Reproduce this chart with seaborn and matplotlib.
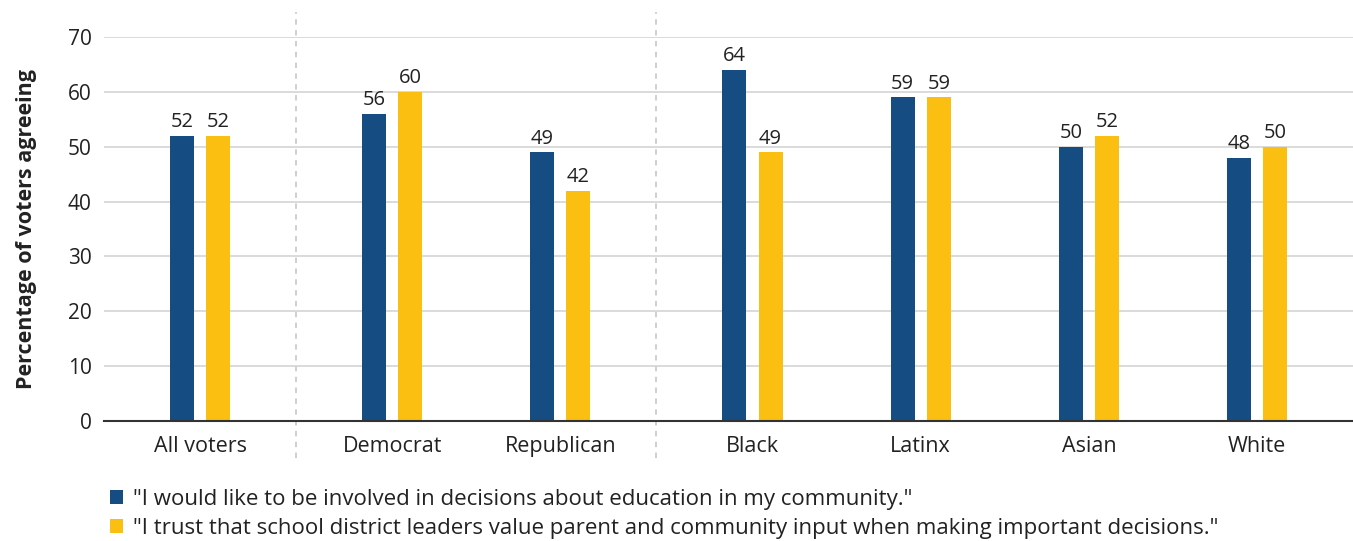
import matplotlib
matplotlib.use("Agg")
import matplotlib.pyplot as plt
import seaborn as sns
import pandas as pd
import numpy as np
from matplotlib.patches import Patch

categories = ["All voters", "Democrat", "Republican", "Black", "Latinx", "Asian", "White"]
groups = [0, 1, 1, 2, 2, 2, 2]
involved = [52, 56, 49, 64, 59, 50, 48]
trust = [52, 60, 42, 49, 59, 52, 50]
series_names = [
    "\"I would like to be involved in decisions about education in my community.\"",
    "\"I trust that school district leaders value parent and community input when making important decisions.\"",
]
colors = ["#154C82", "#FBBF12"]
yticks = [0, 10, 20, 30, 40, 50, 60, 70]

group_gap = 1 / 7
positions = [i + g * group_gap for i, g in enumerate(groups)]

df = pd.DataFrame({
    "pos": positions * 2,
    "value": involved + trust,
    "series": [series_names[0]] * len(categories) + [series_names[1]] * len(categories),
})

sns.set_theme(style="white")
plt.rcParams["font.family"] = ["Open Sans", "DejaVu Sans"]
text_color = "#222222"

fig = plt.figure(figsize=(13.53, 5.41), dpi=100)
ax = fig.add_axes([104 / 1353, 1 - 421 / 541, 1 - 104 / 1353, 384 / 541])

sns.barplot(data=df, x="pos", y="value", hue="series", native_scale=True,
            palette=colors, width=0.43, gap=1 / 3, ax=ax, legend=False,
            saturation=1, linewidth=0, errorbar=None)

for cont in ax.containers:
    ax.bar_label(cont, fmt="%d", padding=2.5, fontsize=14.5, color=text_color)

ax.set_ylim(0, 70)
ax.set_xlim(positions[0] - 0.571, positions[-1] + 0.571)
ax.set_yticks(yticks)
ax.set_yticklabels([str(t) for t in yticks], fontsize=15, color=text_color)
ax.set_xticks(positions)
ax.set_xticklabels(categories, fontsize=15.5, color=text_color)
ax.tick_params(axis="y", length=0, pad=9)
ax.tick_params(axis="x", length=0, pad=11)
ax.set_xlabel("")
ax.set_ylabel("Percentage of voters agreeing", fontsize=15.5, fontweight="bold",
              color=text_color, labelpad=22)

ax.grid(axis="y", color="#d4d4d4", linewidth=1.2)
ax.set_axisbelow(True)
for s in ["top", "right", "left"]:
    ax.spines[s].set_visible(False)
ax.spines["bottom"].set_color("#333333")
ax.spines["bottom"].set_linewidth(1.5)

# group separators midway between groups
for i in range(1, len(categories)):
    if groups[i] != groups[i - 1]:
        xm = (positions[i] + positions[i - 1]) / 2
        ax.axvline(xm, ymin=-0.096, ymax=1.065, clip_on=False, color="#cccccc",
                   linewidth=1.3, linestyle=(0, (3, 3)), zorder=0)

handles = [Patch(facecolor=c, edgecolor="none") for c in colors]
fig.legend(handles, series_names, loc="upper left", bbox_to_anchor=(101 / 1353, 1 - 480 / 541),
           frameon=False, fontsize=16, handlelength=0.6, handleheight=0.6,
           handletextpad=0.45, labelspacing=0.35, labelcolor=text_color, borderaxespad=0)

fig.savefig("out.png", dpi=100)
